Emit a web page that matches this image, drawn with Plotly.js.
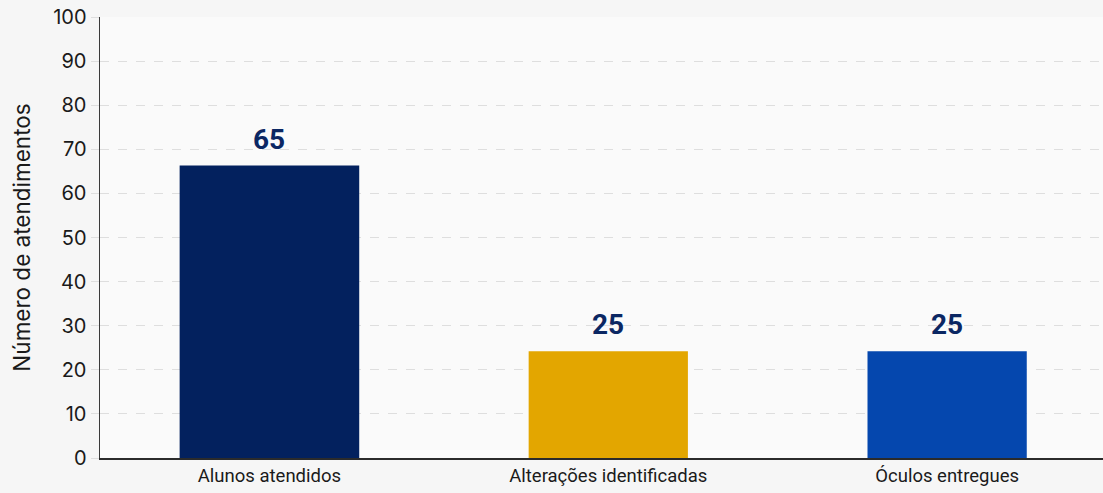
<!DOCTYPE html>
<html>
<head>
<meta charset="utf-8">
<script src="https://cdn.plot.ly/plotly-3.0.1.min.js"></script>
<style>html,body{margin:0;padding:0;background:#f6f6f6;}#chart{width:1103px;height:493px;}</style>
</head>
<body>
<div id="chart"></div>
<script>
// Data
const categories = ["Alunos atendidos", "Alterações identificadas", "Óculos entregues"];
const barHeights = [66.3, 24.2, 24.2];   // drawn bar heights
const barLabels = ["65", "25", "25"];     // value labels shown above bars
const yTicks = [0, 10, 20, 30, 40, 50, 60, 70, 80, 90, 100];

const colors = ["#03215E", "#E3A600", "#0547AE"];
const widths = [0.53, 0.47, 0.47];

const trace = {
  type: "bar",
  x: categories,
  y: barHeights,
  width: widths,
  marker: {color: colors, line: {width: 0}},
  hoverinfo: "skip"
};

const annotations = categories.map((c, i) => ({
  x: c, y: barHeights[i], xref: "x", yref: "y",
  text: barLabels[i], showarrow: false,
  yanchor: "bottom", yshift: 8,
  font: {family: "Roboto, sans-serif", size: 28, color: "#0B2763", weight: 700}
}));

const layout = {
  width: 1103, height: 493,
  margin: {l: 100, r: 0, t: 17, b: 35},
  paper_bgcolor: "#f6f6f6",
  plot_bgcolor: "#fafafa",
  showlegend: false,
  bargap: 0.5,
  xaxis: {
    type: "category",
    range: [-0.5, 2.46],
    showgrid: false,
    showline: true, linecolor: "#2b2b2b", linewidth: 1.5,
    ticks: "", zeroline: false,
    tickfont: {family: "Roboto, sans-serif", size: 18.5, color: "#1a1a1a"}
  },
  yaxis: {
    range: [0, 100],
    tickvals: yTicks,
    showgrid: true, gridcolor: "#dedede", griddash: "dash", gridwidth: 1,
    showline: true, linecolor: "#3a3a3a", linewidth: 1.5,
    zeroline: false,
    ticks: "outside", ticklen: 8, tickcolor: "#dedede",
    tickfont: {family: "Inter, sans-serif", size: 20, color: "#1a1a1a"},
    title: {text: "Número de atendimentos", standoff: 16,
            font: {family: "Inter, sans-serif", size: 22.5, color: "#1a1a1a"}}
  },
  annotations: annotations
};

Plotly.newPlot("chart", [trace], layout, {displayModeBar: false, staticPlot: true});
</script>
</body>
</html>
